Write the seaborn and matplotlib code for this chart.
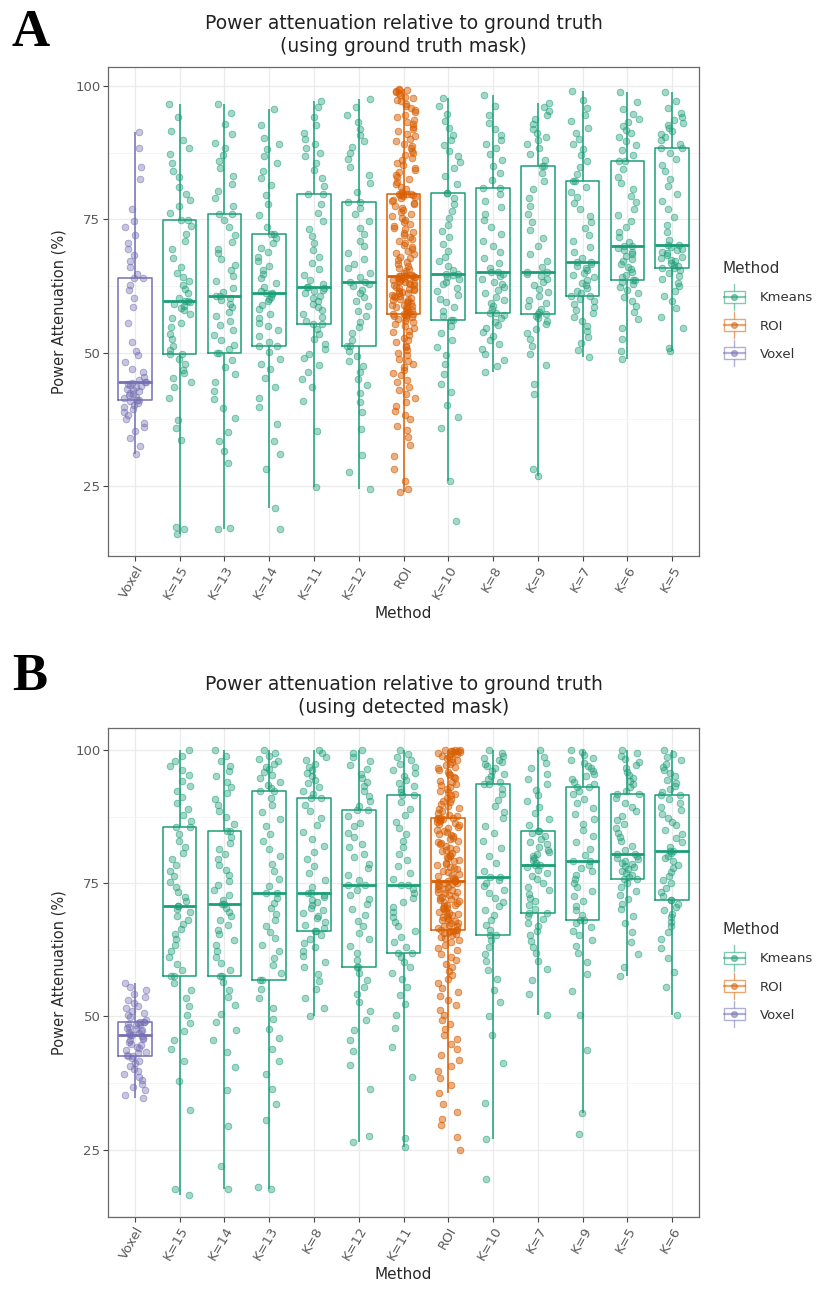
import numpy as np
import pandas as pd
import matplotlib
matplotlib.use("Agg")
import matplotlib.pyplot as plt
import seaborn as sns
from matplotlib.legend_handler import HandlerBase
from matplotlib.lines import Line2D
from matplotlib.patches import Rectangle
from matplotlib.colors import to_rgba
from matplotlib.collections import PathCollection

# ------------------------------------------------------------------
# Power attenuation (%) per method, panel A: ground-truth mask
# ------------------------------------------------------------------
a_labels = ["Voxel", "K=15", "K=13", "K=14", "K=11", "K=12", "ROI",
            "K=10", "K=8", "K=9", "K=7", "K=6", "K=5"]

a_voxel = [30.9, 32.5, 34.0, 35.2, 36.1, 36.8, 37.5, 38.2, 38.9, 39.4, 39.8, 40.2, 40.6, 40.9, 41.1,
           41.1, 41.4, 41.7, 42.0, 42.2, 42.5, 42.8, 43.0, 43.2, 43.5, 43.7, 43.9, 44.1, 44.3, 44.4,
           44.4, 44.9, 45.5, 46.3, 47.0, 48.2, 49.5, 50.3, 52.0, 55.5, 58.6, 60.2, 61.8, 62.7, 63.9,
           63.9, 64.8, 66.0, 67.1, 68.3, 69.4, 70.6, 72.0, 73.5, 74.6, 77.0, 82.5, 84.9, 88.3, 91.3]
a_k15 = [16.0, 16.9, 17.2, 33.5, 35.8, 37.4, 41.5, 43.6, 44.5, 45.3, 46.2, 46.8, 47.9, 48.8, 49.7,
         49.7, 50.4, 51.3, 52.6, 53.5, 54.8, 55.6, 56.4, 57.3, 57.9, 58.4, 58.8, 59.1, 59.4, 59.6,
         59.6, 60.3, 61.2, 62.0, 62.6, 63.4, 64.2, 65.0, 66.1, 67.8, 69.4, 70.9, 72.3, 73.8, 74.9,
         74.9, 76.2, 77.4, 78.7, 79.8, 81.0, 82.9, 84.1, 85.5, 87.2, 88.4, 89.9, 91.6, 94.2, 96.6]
a_k13 = [16.9, 17.1, 29.3, 31.5, 33.4, 35.0, 37.8, 39.6, 41.2, 42.8, 44.5, 45.9, 47.3, 48.6, 49.9,
         49.9, 50.6, 51.5, 52.4, 53.3, 54.2, 55.1, 56.0, 56.9, 57.7, 58.5, 59.2, 59.8, 60.3, 60.6,
         60.6, 61.3, 62.2, 63.4, 64.3, 65.5, 66.4, 67.6, 68.7, 69.5, 70.8, 72.1, 73.6, 74.9, 75.9,
         75.9, 77.4, 78.9, 80.4, 81.7, 83.2, 84.6, 85.9, 87.1, 88.3, 89.4, 91.0, 92.8, 94.9, 96.7]
a_k14 = [16.9, 20.9, 28.2, 31.0, 33.4, 36.6, 39.8, 41.5, 43.6, 45.2, 46.9, 47.8, 48.7, 50.1, 51.25,
         51.25, 52.0, 53.1, 54.2, 54.9, 55.6, 56.4, 57.3, 58.2, 58.9, 59.6, 60.1, 60.5, 60.9, 61.1,
         61.1, 61.6, 62.3, 63.1, 63.9, 64.7, 65.4, 66.2, 67.1, 67.9, 68.8, 69.6, 70.5, 71.4, 72.2,
         72.2, 73.5, 75.8, 77.9, 79.6, 81.4, 82.8, 84.1, 85.6, 86.9, 88.2, 89.1, 90.3, 92.6, 95.6]
a_k11 = [24.7, 35.2, 40.9, 43.5, 45.1, 46.4, 47.6, 48.9, 49.8, 50.7, 51.6, 52.5, 53.4, 54.4, 55.3,
         55.3, 55.9, 56.6, 57.2, 57.9, 58.5, 59.1, 59.7, 60.2, 60.7, 61.1, 61.5, 61.8, 62.1, 62.3,
         62.3, 62.8, 63.6, 64.5, 65.6, 66.8, 68.0, 69.3, 70.5, 71.9, 73.2, 74.6, 76.1, 77.9, 79.7,
         79.7, 81.3, 82.8, 84.2, 85.5, 86.8, 87.5, 88.3, 89.1, 90.0, 91.2, 92.6, 94.1, 96.0, 97.2]
a_k12 = [24.4, 27.5, 30.8, 35.6, 38.9, 40.7, 42.4, 43.9, 45.1, 46.3, 47.4, 48.5, 49.4, 50.3, 51.25,
         51.25, 52.4, 53.6, 54.7, 55.8, 56.8, 57.8, 58.7, 59.6, 60.4, 61.1, 61.8, 62.4, 62.9, 63.3,
         63.3, 64.1, 64.9, 65.8, 66.6, 67.5, 68.6, 69.9, 71.0, 72.2, 73.4, 74.6, 75.9, 77.1, 78.3,
         78.3, 80.1, 81.8, 83.4, 84.9, 86.3, 87.4, 88.5, 89.6, 90.8, 92.0, 93.3, 94.6, 96.1, 97.5]
a_roi = [23.8, 24.4, 25.9, 28.2, 30.5, 32.6, 34.1, 35.4, 36.3, 37.5,
         38.2, 39.1, 39.9, 40.8, 41.4, 42.3, 43.0, 43.6, 44.4, 44.9,
         45.7, 46.2, 46.8, 47.3, 47.9, 48.4, 48.8, 49.5, 49.9, 50.4,
         51.0, 51.3, 51.9, 52.4, 52.7, 53.3, 53.8, 54.1, 54.6, 54.9,
         55.4, 55.7, 56.0, 56.3, 56.5, 56.7, 56.9, 57.0, 57.1, 57.2,
         57.2, 57.3, 57.6, 57.7, 57.9, 58.0, 58.3, 58.4, 58.5, 58.8,
         58.9, 59.0, 59.3, 59.4, 59.5, 59.8, 59.9, 60.1, 60.2, 60.4,
         60.6, 60.7, 60.8, 61.1, 61.2, 61.3, 61.6, 61.7, 61.9, 62.0,
         62.2, 62.3, 62.6, 62.7, 62.8, 63.0, 63.1, 63.3, 63.4, 63.5,
         63.7, 63.8, 63.9, 64.0, 64.1, 64.2, 64.3, 64.3, 64.4, 64.4,
         64.4, 64.6, 64.9, 65.3, 65.6, 65.9, 66.3, 66.6, 67.0, 67.3,
         67.7, 68.0, 68.4, 68.7, 69.1, 69.5, 69.8, 70.2, 70.5, 70.9,
         71.3, 71.6, 72.0, 72.4, 72.7, 73.1, 73.4, 73.8, 74.2, 74.5,
         74.9, 75.3, 75.6, 76.0, 76.3, 76.7, 77.1, 77.4, 77.8, 78.1,
         78.4, 78.7, 78.9, 79.1, 79.3, 79.5, 79.6, 79.7, 79.8, 79.8,
         79.8, 80.2, 80.7, 81.1, 81.6, 82.0, 82.5, 82.9, 83.4, 83.8,
         84.3, 84.7, 85.2, 85.6, 86.1, 86.5, 87.0, 87.4, 87.9, 88.3,
         88.8, 89.2, 89.7, 90.1, 90.6, 91.0, 91.5, 91.9, 92.4, 92.8,
         93.3, 93.7, 94.2, 94.6, 95.1, 95.5, 95.9, 96.3, 96.7, 97.1,
         97.4, 97.7, 98.0, 98.3, 98.6, 98.8, 99.0, 99.2, 99.3, 99.4]
a_k10 = [18.4, 25.9, 35.8, 37.9, 40.2, 42.6, 44.1, 45.9, 47.8, 49.6, 51.0, 52.4, 53.7, 55.0, 56.1,
         56.1, 56.9, 57.8, 58.6, 59.4, 60.1, 60.8, 61.5, 62.2, 62.8, 63.3, 63.8, 64.2, 64.5, 64.7,
         64.7, 65.4, 66.2, 67.1, 68.0, 69.1, 70.3, 71.6, 72.8, 74.0, 75.3, 76.5, 77.8, 78.9, 80.0,
         80.0, 81.6, 83.2, 84.6, 85.8, 86.9, 87.8, 88.9, 89.8, 90.9, 92.1, 93.4, 94.8, 96.3, 97.8]
a_k8 = [46.3, 47.5, 48.6, 49.8, 50.7, 51.6, 52.4, 53.1, 53.9, 54.6, 55.2, 55.8, 56.4, 57.0, 57.5,
        57.5, 58.1, 58.7, 59.3, 59.9, 60.5, 61.1, 61.7, 62.3, 62.8, 63.3, 63.8, 64.3, 64.8, 65.1,
        65.1, 65.9, 66.8, 67.7, 68.8, 69.9, 71.0, 72.3, 73.6, 74.8, 76.0, 77.3, 78.5, 79.7, 80.9,
        80.9, 82.3, 83.7, 85.0, 86.2, 87.3, 88.4, 89.2, 89.9, 90.8, 91.9, 93.1, 94.5, 96.2, 98.4]
a_k9 = [26.9, 28.1, 42.3, 44.1, 47.6, 49.8, 51.2, 52.5, 53.6, 54.5, 55.3, 55.9, 56.4, 56.8, 57.2,
        57.2, 57.6, 58.1, 58.7, 59.3, 59.9, 60.6, 61.3, 62.0, 62.6, 63.2, 63.8, 64.3, 64.8, 65.1,
        65.1, 66.0, 67.2, 68.5, 69.9, 71.4, 72.9, 74.4, 76.0, 77.5, 79.0, 80.6, 82.1, 83.6, 85.0,
        85.0, 86.1, 87.2, 88.3, 89.1, 89.8, 90.4, 91.2, 92.0, 92.9, 93.8, 94.6, 95.3, 96.1, 96.9]
a_k7 = [49.1, 50.4, 51.8, 53.0, 54.1, 55.0, 55.9, 56.7, 57.4, 58.0, 58.6, 59.1, 59.6, 60.1, 60.6,
        60.6, 61.1, 61.6, 62.1, 62.6, 63.1, 63.6, 64.1, 64.6, 65.0, 65.4, 65.8, 66.2, 66.6, 66.9,
        66.9, 67.8, 68.8, 69.8, 70.9, 72.1, 73.3, 74.5, 75.7, 76.9, 78.0, 79.1, 80.1, 81.1, 82.1,
        82.1, 83.5, 84.8, 86.0, 87.1, 88.1, 89.1, 90.1, 91.1, 92.2, 93.4, 94.6, 95.9, 97.4, 99.1]
a_k6 = [48.8, 50.2, 52.5, 54.6, 56.3, 57.6, 58.7, 59.6, 60.4, 61.1, 61.7, 62.3, 62.8, 63.2, 63.6,
        63.6, 64.1, 64.6, 65.1, 65.6, 66.1, 66.6, 67.1, 67.6, 68.1, 68.5, 68.9, 69.3, 69.7, 70.0,
        70.0, 70.8, 71.7, 72.6, 73.6, 74.7, 75.8, 77.0, 78.2, 79.4, 80.6, 81.8, 83.0, 84.4, 85.9,
        85.9, 87.0, 88.0, 88.9, 89.7, 90.4, 91.1, 91.8, 92.5, 93.2, 93.9, 94.7, 95.6, 97.0, 98.8]
a_k5 = [50.3, 50.9, 54.6, 56.7, 58.4, 59.6, 60.7, 61.6, 62.4, 63.1, 63.8, 64.4, 64.9, 65.4, 65.8,
        65.8, 66.2, 66.5, 66.8, 67.1, 67.4, 67.7, 68.0, 68.3, 68.6, 68.9, 69.2, 69.5, 69.8, 70.1,
        70.1, 71.2, 72.6, 74.0, 75.5, 76.9, 78.4, 79.8, 81.2, 82.6, 84.0, 85.2, 86.4, 87.4, 88.4,
        88.4, 89.1, 89.8, 90.4, 91.0, 91.6, 92.1, 92.6, 93.1, 93.6, 94.2, 94.9, 95.8, 97.2, 98.8]

a_groups = [a_voxel, a_k15, a_k13, a_k14, a_k11, a_k12, a_roi,
            a_k10, a_k8, a_k9, a_k7, a_k6, a_k5]

# ------------------------------------------------------------------
# Panel B: detected mask
# ------------------------------------------------------------------
b_labels = ["Voxel", "K=15", "K=14", "K=13", "K=8", "K=12", "K=11",
            "ROI", "K=10", "K=7", "K=9", "K=5", "K=6"]

b_voxel = [34.6, 35.3, 36.1, 36.8, 37.4, 38.0, 38.6, 39.1, 39.7, 40.2, 40.7, 41.2, 41.6, 42.1, 42.5,
           42.5, 42.8, 43.1, 43.4, 43.7, 44.0, 44.3, 44.6, 44.9, 45.2, 45.5, 45.8, 46.0, 46.3, 46.5,
           46.5, 46.7, 46.9, 47.1, 47.3, 47.5, 47.7, 47.9, 48.1, 48.3, 48.5, 48.6, 48.7, 48.9, 49.0,
           49.0, 49.4, 49.8, 50.2, 50.6, 51.0, 51.5, 52.0, 52.5, 53.0, 53.6, 54.2, 54.9, 55.6, 56.3]
b_k15 = [16.5, 17.6, 32.4, 37.9, 41.6, 43.8, 45.5, 47.2, 48.8, 50.3, 51.9, 53.4, 54.9, 56.3, 57.6,
         57.6, 58.7, 59.9, 61.1, 62.3, 63.4, 64.5, 65.5, 66.4, 67.3, 68.1, 68.9, 69.6, 70.2, 70.8,
         70.8, 71.6, 72.5, 73.4, 74.3, 75.3, 76.3, 77.4, 78.5, 79.6, 80.7, 81.8, 83.0, 84.3, 85.5,
         85.5, 86.7, 87.9, 89.0, 90.1, 91.2, 92.3, 93.3, 94.3, 95.3, 96.2, 97.1, 98.0, 99.0, 100.0]
b_k14 = [17.5, 21.9, 29.4, 36.2, 40.5, 43.3, 45.6, 47.4, 48.9, 50.5, 52.1, 53.6, 55.0, 56.4, 57.6,
         57.6, 58.8, 60.0, 61.2, 62.3, 63.4, 64.4, 65.4, 66.3, 67.2, 68.1, 68.9, 69.7, 70.4, 71.1,
         71.1, 71.9, 72.8, 73.7, 74.6, 75.5, 76.5, 77.5, 78.5, 79.5, 80.5, 81.5, 82.6, 83.7, 84.8,
         84.8, 86.1, 87.4, 88.6, 89.8, 90.9, 92.0, 93.1, 94.1, 95.1, 96.1, 97.0, 97.9, 98.9, 100.0]
b_k13 = [17.6, 17.9, 30.6, 33.5, 36.4, 39.2, 41.6, 43.8, 45.9, 47.7, 49.5, 51.5, 53.4, 55.2, 56.9,
         56.9, 58.2, 59.6, 60.9, 62.2, 63.5, 64.7, 65.9, 67.0, 68.1, 69.2, 70.3, 71.3, 72.3, 73.1,
         73.1, 74.5, 75.9, 77.3, 78.7, 80.1, 81.5, 82.9, 84.3, 85.7, 87.1, 88.4, 89.7, 91.0, 92.3,
         92.3, 92.9, 93.5, 94.1, 94.7, 95.3, 95.9, 96.4, 96.9, 97.4, 97.9, 98.4, 98.9, 99.5, 100.0]
b_k8 = [50.0, 51.6, 53.4, 55.1, 56.6, 58.0, 59.2, 60.3, 61.3, 62.2, 63.0, 63.8, 64.6, 65.3, 66.0,
        66.0, 66.6, 67.2, 67.8, 68.4, 68.9, 69.4, 69.9, 70.4, 70.9, 71.4, 71.9, 72.4, 72.8, 73.2,
        73.2, 74.4, 75.6, 76.9, 78.2, 79.5, 80.8, 82.1, 83.4, 84.7, 86.0, 87.3, 88.6, 89.8, 91.0,
        91.0, 91.7, 92.4, 93.1, 93.8, 94.5, 95.1, 95.7, 96.3, 96.9, 97.5, 98.1, 98.7, 99.4, 100.0]
b_k12 = [26.5, 27.6, 36.3, 40.9, 43.5, 45.6, 47.5, 49.3, 51.0, 52.7, 54.2, 55.6, 56.9, 58.1, 59.3,
         59.3, 60.6, 61.9, 63.2, 64.5, 65.7, 66.9, 68.0, 69.1, 70.1, 71.1, 72.0, 72.9, 73.8, 74.6,
         74.6, 75.7, 76.5, 77.8, 78.6, 79.9, 80.5, 81.8, 82.4, 83.7, 84.5, 85.8, 86.4, 87.7, 88.7,
         88.7, 89.6, 90.5, 91.4, 92.3, 93.2, 94.0, 94.8, 95.6, 96.4, 97.2, 98.0, 98.7, 99.4, 100.0]
b_k11 = [25.5, 27.2, 38.6, 44.2, 47.8, 50.3, 52.4, 54.1, 55.6, 57.0, 58.2, 59.3, 60.3, 61.2, 62.0,
         62.0, 63.0, 64.0, 65.0, 66.0, 66.9, 67.8, 68.7, 69.6, 70.5, 71.4, 72.3, 73.1, 73.9, 74.6,
         74.6, 75.8, 77.0, 78.2, 79.4, 80.6, 81.8, 83.0, 84.2, 85.4, 86.6, 87.8, 89.0, 90.3, 91.5,
         91.5, 92.1, 92.7, 93.3, 93.9, 94.5, 95.1, 95.7, 96.3, 96.9, 97.5, 98.1, 98.7, 99.3, 100.0]
b_roi = [25.0, 27.4, 29.6, 30.8, 32.1, 33.5, 35.6, 37.2, 38.4, 39.8,
         40.7, 41.9, 42.8, 43.9, 44.8, 45.7, 46.6, 47.6, 48.5, 49.4,
         50.3, 51.2, 52.1, 53.0, 53.8, 54.6, 55.4, 56.2, 57.0, 57.8,
         58.5, 59.2, 59.9, 60.6, 61.2, 61.8, 62.4, 62.9, 63.4, 63.9,
         64.3, 64.7, 65.0, 65.3, 65.5, 65.7, 65.9, 66.0, 66.1, 66.2,
         66.2, 66.3, 66.6, 66.9, 67.0, 67.2, 67.5, 67.6, 67.9, 68.1,
         68.2, 68.5, 68.6, 68.9, 69.1, 69.2, 69.5, 69.7, 69.8, 70.1,
         70.3, 70.4, 70.7, 70.9, 71.0, 71.3, 71.5, 71.6, 71.9, 72.1,
         72.2, 72.5, 72.7, 72.8, 73.1, 73.3, 73.4, 73.7, 73.9, 74.0,
         74.3, 74.5, 74.6, 74.8, 75.0, 75.1, 75.3, 75.4, 75.5, 75.5,
         75.5, 75.8, 76.0, 76.3, 76.5, 76.8, 77.1, 77.3, 77.6, 77.8,
         78.1, 78.4, 78.6, 78.9, 79.1, 79.4, 79.7, 79.9, 80.2, 80.4,
         80.7, 81.0, 81.2, 81.5, 81.7, 82.0, 82.3, 82.5, 82.8, 83.0,
         83.3, 83.6, 83.8, 84.1, 84.3, 84.6, 84.9, 85.1, 85.4, 85.6,
         85.9, 86.1, 86.3, 86.5, 86.7, 86.9, 87.0, 87.1, 87.2, 87.3,
         87.3, 87.6, 87.9, 88.3, 88.6, 88.9, 89.2, 89.5, 89.9, 90.2,
         90.5, 90.8, 91.1, 91.5, 91.8, 92.1, 92.4, 92.7, 93.1, 93.4,
         93.7, 94.0, 94.3, 94.7, 95.0, 95.3, 95.6, 95.9, 96.3, 96.6,
         96.9, 97.2, 97.5, 97.8, 98.1, 98.3, 98.6, 98.8, 99.0, 99.2,
         99.3, 99.5, 99.6, 99.7, 99.8, 99.9, 99.9, 100.0, 100.0, 100.0]
b_k10 = [19.5, 27.0, 33.8, 41.2, 46.5, 50.1, 52.8, 55.0, 57.0, 58.8, 60.4, 61.8, 63.1, 64.3, 65.3,
         65.3, 66.3, 67.2, 68.1, 69.0, 69.9, 70.7, 71.5, 72.3, 73.1, 73.8, 74.5, 75.1, 75.6, 76.1,
         76.1, 77.4, 78.8, 80.2, 81.6, 83.0, 84.4, 85.8, 87.2, 88.4, 89.6, 90.7, 91.8, 92.8, 93.6,
         93.6, 94.1, 94.6, 95.1, 95.6, 96.1, 96.6, 97.0, 97.4, 97.8, 98.2, 98.6, 99.0, 99.5, 100.0]
b_k7 = [50.3, 54.2, 56.8, 58.9, 60.5, 61.9, 63.1, 64.2, 65.2, 66.1, 66.9, 67.6, 68.3, 68.9, 69.5,
        69.5, 70.2, 70.9, 71.6, 72.3, 73.0, 73.7, 74.4, 75.1, 75.8, 76.4, 77.0, 77.5, 78.0, 78.5,
        78.5, 78.9, 79.3, 79.7, 80.1, 80.5, 80.9, 81.3, 81.8, 82.3, 82.8, 83.3, 83.8, 84.4, 84.9,
        84.9, 86.0, 87.1, 88.2, 89.3, 90.4, 91.5, 92.6, 93.6, 94.6, 95.6, 96.6, 97.6, 98.8, 100.0]
b_k9 = [28.0, 31.8, 43.6, 50.2, 54.7, 57.9, 60.2, 61.9, 63.3, 64.4, 65.3, 66.1, 66.8, 67.5, 68.1,
        68.1, 69.0, 69.9, 70.8, 71.7, 72.6, 73.5, 74.3, 75.1, 75.9, 76.6, 77.3, 77.9, 78.5, 79.1,
        79.1, 80.3, 81.5, 82.7, 83.9, 85.0, 86.1, 87.1, 88.1, 89.1, 90.0, 90.9, 91.7, 92.4, 93.1,
        93.1, 93.6, 94.1, 94.6, 95.1, 95.6, 96.1, 96.6, 97.1, 97.6, 98.1, 98.6, 99.1, 99.6, 100.0]
b_k5 = [57.5, 59.2, 61.8, 64.0, 65.9, 67.5, 68.9, 70.1, 71.1, 72.0, 72.8, 73.6, 74.4, 75.1, 75.8,
        75.8, 76.2, 76.6, 77.0, 77.4, 77.7, 78.0, 78.3, 78.6, 78.9, 79.2, 79.5, 79.8, 80.2, 80.5,
        80.5, 81.3, 82.1, 82.9, 83.7, 84.5, 85.3, 86.1, 86.9, 87.7, 88.5, 89.3, 90.1, 91.0, 91.8,
        91.8, 92.4, 93.0, 93.6, 94.2, 94.8, 95.4, 96.0, 96.6, 97.2, 97.8, 98.4, 99.0, 99.5, 100.0]
b_k6 = [50.3, 55.6, 58.4, 60.9, 62.9, 64.5, 65.8, 66.9, 67.8, 68.6, 69.3, 70.0, 70.6, 71.2, 71.8,
        71.8, 72.6, 73.4, 74.2, 75.0, 75.7, 76.4, 77.1, 77.8, 78.5, 79.1, 79.7, 80.2, 80.7, 81.1,
        81.1, 81.9, 82.7, 83.5, 84.3, 85.1, 85.9, 86.6, 87.3, 88.0, 88.7, 89.4, 90.1, 90.8, 91.5,
        91.5, 92.1, 92.7, 93.3, 93.9, 94.5, 95.1, 95.7, 96.3, 96.9, 97.5, 98.1, 98.7, 99.3, 100.0]

b_groups = [b_voxel, b_k15, b_k14, b_k13, b_k8, b_k12, b_k11,
            b_roi, b_k10, b_k7, b_k9, b_k5, b_k6]

methods = ["Kmeans", "ROI", "Voxel"]
colors = ["#1B9E77", "#D95F02", "#7570B3"]

a_title = "Power attenuation relative to ground truth\n(using ground truth mask)"
b_title = "Power attenuation relative to ground truth\n(using detected mask)"

# ------------------------------------------------------------------
sns.set_theme(style="white")
plt.rcParams["font.family"] = ["DejaVu Sans"]
palette = dict(zip(methods, colors))


def method_of(label):
    if label == "Voxel":
        return "Voxel"
    if label == "ROI":
        return "ROI"
    return "Kmeans"


def to_frame(labels, groups):
    rows = [(lab, method_of(lab), v) for lab, vals in zip(labels, groups) for v in vals]
    return pd.DataFrame(rows, columns=["Label", "Method", "Power"])


class BoxKey(HandlerBase):
    """Legend key drawn as a small boxplot glyph with a point."""

    def __init__(self, color):
        super().__init__()
        self.color = color

    def create_artists(self, legend, orig_handle, xdescent, ydescent,
                       width, height, fontsize, trans):
        c = to_rgba(self.color, 0.55)
        x0, y0 = -xdescent, -ydescent
        cx = x0 + width / 2
        whisk = Line2D([cx, cx], [y0 - 0.45 * height, y0 + 1.45 * height],
                       color=c, lw=1.0, transform=trans)
        box = Rectangle((x0 + 0.06 * width, y0 + 0.05 * height), 0.88 * width, 0.9 * height,
                        facecolor="white", edgecolor=c, lw=1.0, transform=trans)
        med = Line2D([x0 + 0.06 * width, x0 + 0.94 * width], [y0 + 0.5 * height] * 2,
                     color=c, lw=1.6, transform=trans)
        dot = Line2D([cx], [y0 + 0.5 * height], marker="o", ms=4.2, lw=0,
                     color=to_rgba(self.color, 0.5), transform=trans)
        return [whisk, box, med, dot]


def draw_panel(ax, labels, groups, title, legend_y):
    df = to_frame(labels, groups)
    n = len(labels)

    sns.boxplot(data=df, x="Label", y="Power", hue="Method", order=labels,
                hue_order=methods, palette=palette, fill=False, dodge=False,
                width=0.75, whis=1.5, showfliers=False, showcaps=False,
                linewidth=1.1, medianprops={"linewidth": 2.0},
                legend=False, ax=ax)

    others = df[df["Method"] != "ROI"]
    roi = df[df["Method"] == "ROI"]
    sns.stripplot(data=others, x="Label", y="Power", hue="Method", order=labels,
                  hue_order=methods, palette=palette, dodge=False, jitter=0.26,
                  size=4.8, linewidth=0, legend=False, ax=ax)
    sns.stripplot(data=roi, x="Label", y="Power", hue="Method", order=labels,
                  hue_order=methods, palette=palette, dodge=False, jitter=0.26,
                  size=4.8, linewidth=0, legend=False, ax=ax)

    # translucent discs with a slightly stronger rim; ROI column is denser
    roi_rgb = to_rgba(palette["ROI"])[:3]
    for coll in ax.collections:
        if isinstance(coll, PathCollection):
            fc = coll.get_facecolors()
            if len(fc):
                rgb = tuple(fc[0][:3])
                is_roi = np.allclose(rgb, roi_rgb, atol=0.02)
                coll.set_facecolor(to_rgba(rgb, 0.5 if is_roi else 0.4))
                coll.set_edgecolor(to_rgba(rgb, 0.7 if is_roi else 0.6))
                coll.set_linewidth(0.6)
                coll.set_zorder(3)

    lo = min(min(g) for g in groups)
    hi = max(max(g) for g in groups)
    span = hi - lo
    ax.set_ylim(lo - 0.05 * span, hi + 0.05 * span)
    ax.set_xlim(-0.6, n - 0.4)

    ax.set_yticks([25, 50, 75, 100])
    ax.set_yticks([12.5, 37.5, 62.5, 87.5], minor=True)
    ax.set_xticks(range(n))
    ax.set_xticklabels(labels, rotation=60, ha="right", rotation_mode="anchor")

    ax.set_axisbelow(True)
    ax.grid(True, which="major", axis="both", color="#EBEBEB", lw=0.9)
    ax.grid(True, which="minor", axis="y", color="#F4F4F4", lw=0.55)

    for sp in ax.spines.values():
        sp.set_visible(True)
        sp.set_color("#6a6a6a")
        sp.set_linewidth(0.9)

    ax.tick_params(axis="both", which="major", length=3.5, width=0.8,
                   color="#444444", labelsize=9.5, labelcolor="#5a5a5a", pad=2,
                   bottom=True, left=True)
    ax.tick_params(axis="both", which="minor", length=0)

    ax.set_xlabel("Method", fontsize=11, color="#2a2a2a", labelpad=3)
    ax.set_ylabel("Power Attenuation (%)", fontsize=10.5, color="#2a2a2a", labelpad=6)
    ax.set_title(title, fontsize=13.5, color="#222222", pad=11, linespacing=1.25)

    handles = [Line2D([], [], color=c) for c in colors]
    leg = fig.legend(handles, methods, title="Method",
                     handler_map={h: BoxKey(c) for h, c in zip(handles, colors)},
                     loc="center left", bbox_to_anchor=(716 / 832, legend_y),
                     frameon=False, fontsize=9.5, title_fontsize=11,
                     handlelength=1.8, handleheight=1.2, handletextpad=1.0,
                     labelspacing=1.05, borderpad=0, alignment="left")
    for t in leg.get_texts():
        t.set_color("#333333")
    leg.get_title().set_color("#333333")


fig = plt.figure(figsize=(8.32, 12.95), dpi=100)
fig.patch.set_facecolor("white")

ax_a = fig.add_axes([108 / 832, 1 - 556 / 1295, 591 / 832, 489 / 1295])
ax_b = fig.add_axes([108 / 832, 1 - 1217 / 1295, 591 / 832, 489 / 1295])

np.random.seed(3)
draw_panel(ax_a, a_labels, a_groups, a_title, 1 - 311 / 1295)
draw_panel(ax_b, b_labels, b_groups, b_title, 1 - 972 / 1295)

for letter, ypix in (("A", 46), ("B", 690)):
    fig.text(12 / 832, 1 - ypix / 1295, letter, fontsize=38, fontweight="bold",
             family=["Liberation Serif", "DejaVu Serif"], ha="left", va="baseline",
             color="black")

fig.savefig("out.png", dpi=100, facecolor="white")
